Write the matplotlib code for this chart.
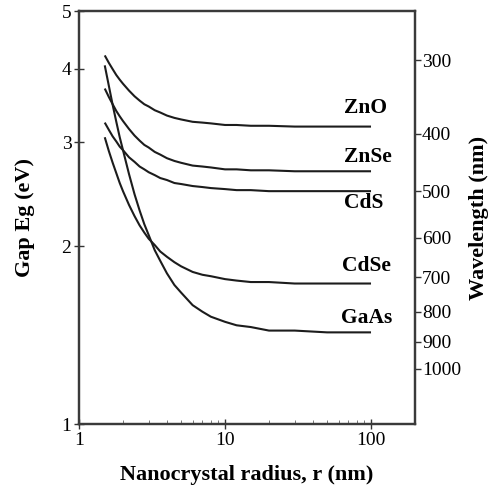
import numpy as np
import matplotlib
matplotlib.use("Agg")
import matplotlib.pyplot as plt
from matplotlib.ticker import NullFormatter, NullLocator, FixedLocator

plt.rcParams["font.family"] = ["Liberation Serif", "DejaVu Serif"]

# nanocrystal radius (nm) and band gap (eV)
radius = [1.5, 1.6, 1.7, 1.8, 1.9, 2.0, 2.2, 2.4, 2.6, 2.8, 3.0, 3.3, 3.6, 4.0, 4.5,
          5, 6, 7, 8, 10, 12, 15, 20, 30, 50, 100]
gap_zno = [4.21, 4.09, 3.99, 3.90, 3.83, 3.77, 3.67, 3.59, 3.53, 3.48, 3.45, 3.40, 3.37,
           3.33, 3.30, 3.28, 3.25, 3.24, 3.23, 3.21, 3.21, 3.20, 3.20, 3.19, 3.19, 3.19]
gap_znse = [3.70, 3.58, 3.48, 3.39, 3.32, 3.26, 3.16, 3.08, 3.02, 2.97, 2.94, 2.89, 2.86,
            2.82, 2.79, 2.77, 2.74, 2.73, 2.72, 2.70, 2.70, 2.69, 2.69, 2.68, 2.68, 2.68]
gap_cds = [3.24, 3.15, 3.07, 3.01, 2.95, 2.91, 2.83, 2.78, 2.73, 2.70, 2.67, 2.64, 2.61,
           2.59, 2.56, 2.55, 2.53, 2.52, 2.51, 2.50, 2.49, 2.49, 2.48, 2.48, 2.48, 2.48]
gap_cdse = [3.06, 2.90, 2.77, 2.66, 2.56, 2.48, 2.35, 2.25, 2.17, 2.11, 2.06, 2.01, 1.96,
            1.92, 1.88, 1.85, 1.81, 1.79, 1.78, 1.76, 1.75, 1.74, 1.74, 1.73, 1.73, 1.73]
gap_gaas = [4.05, 3.74, 3.47, 3.25, 3.06, 2.91, 2.65, 2.45, 2.30, 2.18, 2.09, 1.97, 1.89,
            1.80, 1.72, 1.67, 1.59, 1.55, 1.52, 1.49, 1.47, 1.46, 1.44, 1.44, 1.43, 1.43]
materials = ["ZnO", "ZnSe", "CdS", "CdSe", "GaAs"]
gaps = [gap_zno, gap_znse, gap_cds, gap_cdse, gap_gaas]

gap_ticks = [1, 2, 3, 4, 5]
radius_ticks = [1, 10, 100]
wavelengths = [300, 400, 500, 600, 700, 800, 900, 1000]
HC = 1240.0  # eV*nm

# label anchor positions (radius, eV)
label_pos = [(65, 3.43), (65, 2.83), (65, 2.37), (63, 1.85), (62, 1.51)]

fig = plt.figure(figsize=(4.94, 4.92), dpi=100)
ax = fig.add_axes([0.160, 0.138, 0.680, 0.839])
ink = "#1c1c1c"
for g in gaps:
    ax.plot(radius, g, color=ink, lw=1.5, solid_capstyle="butt")
for name, (lx, ly) in zip(materials, label_pos):
    ax.text(lx, ly, name, fontsize=15.5, fontweight="bold", ha="left", va="center", color="black")

ax.set_xscale("log"); ax.set_yscale("log")
ax.set_xlim(1, 200); ax.set_ylim(1, 5)
ax.xaxis.set_major_locator(FixedLocator(radius_ticks))
ax.set_xticklabels([str(t) for t in radius_ticks])
ax.yaxis.set_major_locator(FixedLocator(gap_ticks))
ax.set_yticklabels([str(t) for t in gap_ticks])
ax.yaxis.set_minor_locator(NullLocator())
ax.xaxis.set_minor_formatter(NullFormatter())
ax.tick_params(axis="both", which="major", labelsize=14, direction="inout", length=7,
               width=1.0, color="#333333", pad=2)
ax.tick_params(axis="x", which="minor", direction="in", length=3, width=0.7, color="#777777")
ax.set_xlabel("Nanocrystal radius, r (nm)", fontsize=16, fontweight="bold", labelpad=12)
ax.set_ylabel("Gap Eg (eV)", fontsize=16, fontweight="bold", labelpad=19)

ax2 = ax.twinx()
ax2.set_yscale("log"); ax2.set_ylim(1, 5)
ax2.yaxis.set_major_locator(FixedLocator([HC / w for w in wavelengths]))
ax2.set_yticklabels([str(w) for w in wavelengths])
ax2.yaxis.set_minor_locator(NullLocator())
ax2.tick_params(axis="y", labelsize=14, direction="out", length=4, width=1.0, color="#333333", pad=1)
ax2.set_ylabel("Wavelength (nm)", fontsize=16, fontweight="bold", labelpad=6)

for a in (ax, ax2):
    for sp in a.spines.values():
        sp.set_linewidth(1.6); sp.set_color("#3a3a3a")

fig.savefig("out.png", dpi=100)
